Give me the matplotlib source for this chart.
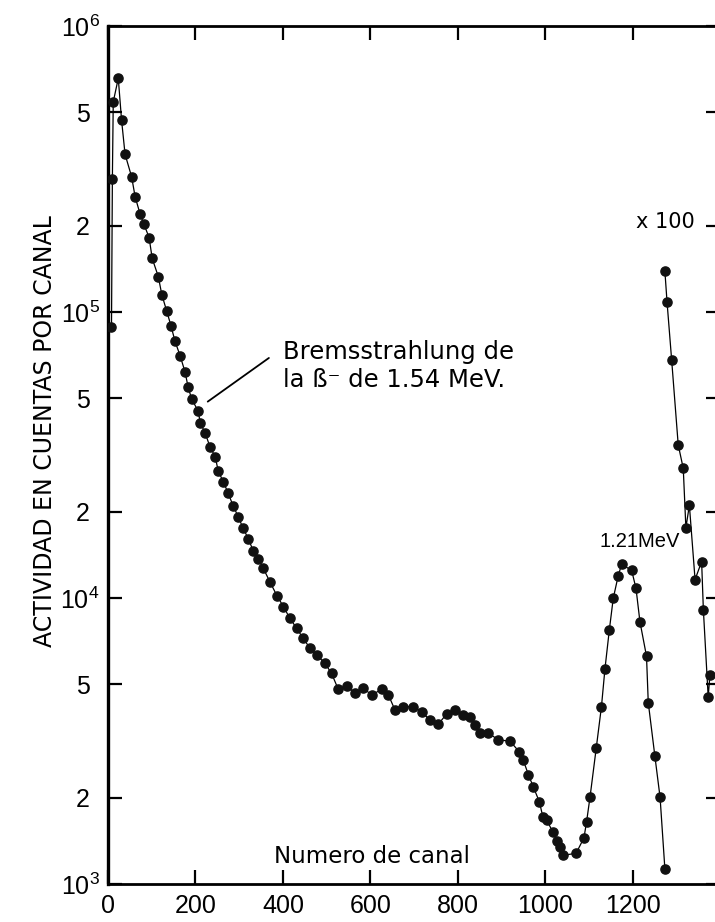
import matplotlib
matplotlib.use("Agg")
import matplotlib.pyplot as plt
import numpy as np

# ---- data ----
canal = [8, 10, 12, 23.5, 31, 39, 54, 62, 73, 82, 94, 101, 115, 123, 134, 144, 153, 165,
         176, 183, 191, 206, 211, 222, 233, 245, 252, 264, 275, 286, 298, 309, 321, 332,
         344, 355, 370, 386, 401, 416, 431, 446, 462, 477, 496, 511, 526, 546, 565, 584,
         603, 626, 641, 656, 675, 698, 717, 736, 755, 774, 793, 812, 827, 839, 850, 869,
         892, 919, 940, 949, 961, 972, 986, 994, 1003, 1017, 1027, 1034, 1040, 1070,
         1088, 1094, 1102, 1116, 1128, 1136, 1146, 1155, 1166, 1174, 1197, 1207, 1216,
         1231, 1235, 1250, 1262, 1273]
cuentas = [8.89e4, 2.92e5, 5.43e5, 6.56e5, 4.69e5, 3.56e5, 2.97e5, 2.53e5, 2.21e5, 2.03e5,
           1.82e5, 1.54e5, 1.33e5, 1.15e5, 1.01e5, 8.95e4, 7.92e4, 7.02e4, 6.18e4, 5.48e4,
           4.97e4, 4.51e4, 4.09e4, 3.78e4, 3.38e4, 3.12e4, 2.78e4, 2.54e4, 2.32e4, 2.10e4,
           1.92e4, 1.75e4, 1.61e4, 1.46e4, 1.37e4, 1.27e4, 1.14e4, 1.02e4, 9.33e3, 8.48e3,
           7.85e3, 7.23e3, 6.67e3, 6.32e3, 5.91e3, 5.45e3, 4.81e3, 4.92e3, 4.64e3, 4.83e3,
           4.58e3, 4.80e3, 4.58e3, 4.06e3, 4.17e3, 4.17e3, 4.00e3, 3.74e3, 3.62e3, 3.93e3,
           4.06e3, 3.90e3, 3.85e3, 3.60e3, 3.37e3, 3.38e3, 3.19e3, 3.16e3, 2.90e3, 2.72e3,
           2.41e3, 2.19e3, 1.94e3, 1.72e3, 1.67e3, 1.52e3, 1.41e3, 1.35e3, 1.26e3, 1.28e3,
           1.45e3, 1.65e3, 2.02e3, 2.98e3, 4.17e3, 5.65e3, 7.73e3, 9.98e3, 1.19e4, 1.31e4,
           1.25e4, 1.08e4, 8.26e3, 6.26e3, 4.31e3, 2.81e3, 2.01e3, 1.13e3]

# tail multiplied by 100
canal_x100 = [1273, 1278, 1288.5, 1303.5, 1315, 1321, 1329, 1342, 1357, 1361, 1372, 1376]
cuentas_x100 = [1.39e5, 1.08e5, 6.79e4, 3.43e4, 2.84e4, 1.76e4, 2.11e4, 1.16e4, 1.34e4,
                9.08e3, 4.51e3, 5.38e3]

xticks = [0, 200, 400, 600, 800, 1000, 1200]
yticks_major = [1e3, 1e4, 1e5, 1e6]
ytick_major_labels = [r"$10^{3}$", r"$10^{4}$", r"$10^{5}$", r"$10^{6}$"]
yticks_minor = [2e3, 5e3, 2e4, 5e4, 2e5, 5e5]
ytick_minor_labels = ["2", "5", "2", "5", "2", "5"]

plt.rcParams['mathtext.fontset'] = 'custom'
plt.rcParams['mathtext.rm'] = 'Liberation Sans'
plt.rcParams['mathtext.it'] = 'Liberation Sans'
plt.rcParams['font.family'] = ['Liberation Sans', 'DejaVu Sans']

fig = plt.figure(figsize=(7.15, 9.22), dpi=100)
ax = fig.add_axes([108/715, 1 - 884/922, (720 - 108)/715, (884 - 26)/922])

ax.plot(canal, cuentas, '-', color='black', lw=0.9, marker='o', ms=6.6,
        mfc='#111111', mec='#111111', zorder=3)
ax.plot(canal_x100, cuentas_x100, '-', color='black', lw=0.9, marker='o', ms=6.6,
        mfc='#111111', mec='#111111', zorder=3)

ax.set_yscale('log')
ax.set_xlim(0, 1399)
ax.set_ylim(1e3, 1e6)

ax.set_xticks(xticks)
ax.set_xticklabels([str(t) for t in xticks])
ax.set_yticks(yticks_major)
ax.set_yticklabels(ytick_major_labels)
ax.set_yticks(yticks_minor, minor=True)
ax.set_yticklabels(ytick_minor_labels, minor=True)

ax.tick_params(which='both', direction='in', top=True, right=True, labelright=False,
               labeltop=False, length=10, width=1.6, labelsize=18, color='black')
ax.tick_params(axis='x', pad=7)
ax.tick_params(axis='y', which='major', pad=6)
ax.tick_params(axis='y', which='minor', pad=13)
for s in ax.spines.values():
    s.set_linewidth(2.0)
ax.spines['left'].set_linewidth(2.4)

fig.text(45/715, 1 - 431/922, "ACTIVIDAD EN CUENTAS POR CANAL", rotation=90,
         ha='center', va='center', fontsize=17, family='DejaVu Sans')

ax.text((274 - 108)/612, (884 - 863)/858, "Numero de canal", transform=ax.transAxes,
        ha='left', va='baseline', fontsize=16.5, family='DejaVu Sans')

ax.annotate("Bremsstrahlung de\nla ß⁻ de 1.54 MeV.", xy=(228, 4.86e4), xytext=(400, 5.47e4),
            ha='left', va='baseline', fontsize=17.5, family='DejaVu Sans',
            arrowprops=dict(arrowstyle='-', color='black', lw=1.3, relpos=(0, 0.85),
                            shrinkA=10, shrinkB=0))

ax.text(1273, 2.07e5, "x 100", ha='center', va='center', fontsize=15, family='DejaVu Sans')
ax.text(1216, 1.58e4, "1.21MeV", ha='center', va='center', fontsize=14.5,
        family='Liberation Sans')

fig.savefig("out.png", dpi=100, facecolor='white')
